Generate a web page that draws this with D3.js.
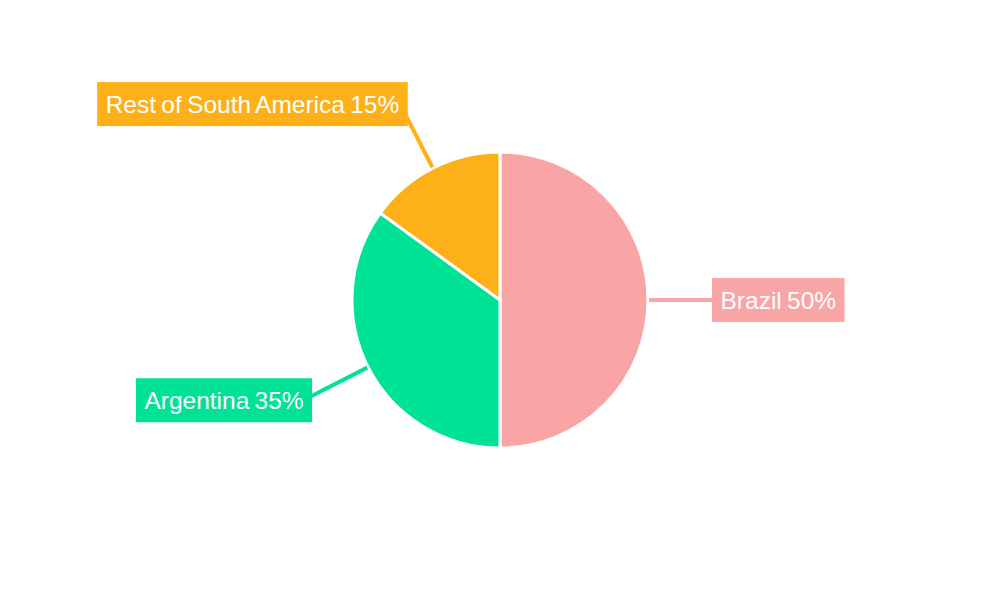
<!DOCTYPE html>
<html>
<head>
<meta charset="utf-8">
<script src="https://cdn.jsdelivr.net/npm/d3@7"></script>
<style>
  body{margin:0;background:#fff;}
  text{font-family:"Liberation Sans",Arial,sans-serif;}
</style>
</head>
<body>
<svg id="chart" width="1000" height="600"></svg>
<script>
// data
var countries = ["Brazil","Argentina","Rest of South America"];
var shares = [50,35,15];
var colors = ["#F9A5A6","#00E396","#FEB019"];

var W = 1000, H = 600;
var cx = 500, cy = 300, R = 148;

var svg = d3.select("#chart");
var g = svg.append("g").attr("transform","translate("+cx+","+cy+")");

var data = countries.map(function(c,i){
  return {name:c, value:shares[i], color:colors[i]};
});

var pie = d3.pie().sort(null).value(function(d){return d.value;});
var arc = d3.arc().innerRadius(0).outerRadius(R);
var arcs = pie(data);

// slices
g.selectAll("path.slice")
  .data(arcs)
  .enter()
  .append("path")
  .attr("class","slice")
  .attr("d",arc)
  .attr("fill",function(d){return d.data.color;})
  .attr("stroke","#fff")
  .attr("stroke-width",3);

// point on the mid ray of a slice
function rayPt(d,r){
  var a = (d.startAngle+d.endAngle)/2;
  return [r*Math.sin(a), -r*Math.cos(a)];
}

// leader lines
g.selectAll("line.lead")
  .data(arcs)
  .enter()
  .append("line")
  .attr("class","lead")
  .attr("x1",function(d){return rayPt(d,R+1)[0];})
  .attr("y1",function(d){return rayPt(d,R+1)[1];})
  .attr("x2",function(d){return rayPt(d,212)[0];})
  .attr("y2",function(d){return rayPt(d,212)[1];})
  .attr("stroke",function(d){return d.data.color;})
  .attr("stroke-width",4);

// labels with coloured boxes
var lab = g.selectAll("g.lab")
  .data(arcs)
  .enter()
  .append("g")
  .attr("class","lab");

lab.each(function(d){
  var p = rayPt(d,212);
  var right = p[0] > 0;
  var grp = d3.select(this);
  var rect = grp.append("rect").attr("fill",d.data.color);
  var t = grp.append("text")
    .attr("fill","#fff")
    .attr("font-size",24.5)
    .attr("word-spacing",-1.5)
    .attr("dominant-baseline","central")
    .text(d.data.name+" "+d.data.value+"%");
  var tw = t.node().getComputedTextLength();
  var pad = 8.5;
  var bw = tw+pad*2, bh = 44;
  var x0 = right ? p[0] : p[0]-bw;
  var yc = p[1];
  if(!right){
    if(p[1] < 0){ yc = p[1]-7; x0 += 4; }
    else { yc = p[1]+4; x0 += 1; }
  }
  rect.attr("x",x0).attr("y",yc-bh/2).attr("width",bw).attr("height",bh);
  t.attr("x",x0+pad).attr("y",yc);
});
</script>
</body>
</html>
